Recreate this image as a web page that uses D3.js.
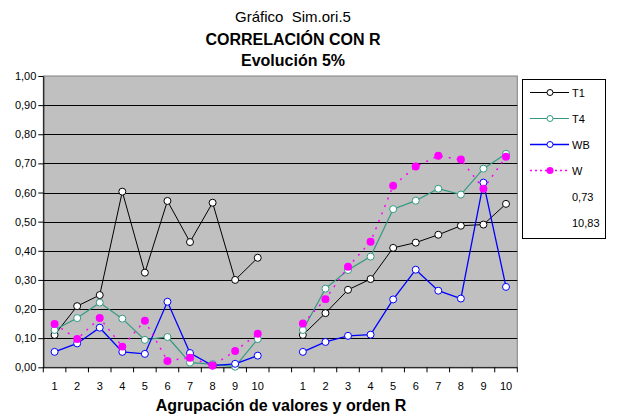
<!DOCTYPE html>
<html><head><meta charset="utf-8">
<script src="https://cdn.jsdelivr.net/npm/d3@7"></script>
<style>body{margin:0;background:#fff}svg{display:block}text{font-family:"Liberation Sans",Arial,sans-serif}</style>
</head><body><svg id="c" width="620" height="420"></svg>
<script>
const categories = ["1","2","3","4","5","6","7","8","9","10","","1","2","3","4","5","6","7","8","9","10"];
const T1 = [0.111,0.210,0.248,0.603,0.325,0.571,0.430,0.565,0.300,0.376,null,0.111,0.186,0.266,0.303,0.410,0.428,0.455,0.486,0.490,0.561];
const T4 = [0.128,0.169,0.222,0.167,0.094,0.104,0.016,0.011,0.002,0.097,null,0.128,0.270,0.334,0.380,0.543,0.572,0.613,0.593,0.682,0.733];
const WB = [0.053,0.082,0.136,0.053,0.046,0.225,0.049,0.006,0.012,0.040,null,0.053,0.087,0.108,0.112,0.233,0.335,0.263,0.236,0.634,0.276];
const W  = [0.149,0.097,0.169,0.071,0.160,0.022,0.033,0.006,0.056,0.115,null,0.150,0.234,0.345,0.431,0.623,0.689,0.726,0.713,0.613,0.723];
const yTicks = [0,0.1,0.2,0.3,0.4,0.5,0.6,0.7,0.8,0.9,1.0];
const legendNames = ["T1","T4","WB","W"];
const legendExtra = ["0,73","10,83"];
const titles = ["Gráfico\u00a0\u00a0Sim.ori.5","CORRELACIÓN CON R","Evolución 5%"];
const xTitle = "Agrupación de valores y orden R";

const svg = d3.select("#c");
const L=43.3, R=517.3, T=76, B=367.3;
const x = d3.scaleBand().domain(d3.range(categories.length)).range([L,R]);
const y = d3.scaleLinear().domain([0,1]).range([B,T]);
const fmt = v => d3.format(".2f")(v).replace(".",",");

svg.append("rect").attr("x",L).attr("y",T).attr("width",R-L).attr("height",B-T).attr("fill","#c0c0c0").attr("stroke","#808080").attr("stroke-width",1);
// gridlines
svg.append("g").selectAll("line").data(yTicks.slice(1,-1)).join("line")
  .attr("x1",L).attr("x2",R).attr("y1",d=>Math.round(y(d))+0.5).attr("y2",d=>Math.round(y(d))+0.5)
  .attr("stroke","#000").attr("stroke-width",1.2);
// y axis
const ya = svg.append("g").attr("transform",`translate(${L},0)`).call(d3.axisLeft(y).tickValues(yTicks).tickFormat(fmt).tickSize(5).tickSizeOuter(0));
ya.select(".domain").attr("stroke","#000");
ya.selectAll("text").attr("font-size",11).attr("fill","#000").attr("x",-7);
// x axis
const xg = svg.append("g").attr("transform",`translate(0,${B})`);
xg.append("line").attr("x1",L).attr("x2",R).attr("y1",0.5).attr("y2",0.5).attr("stroke","#000");
const bounds = d3.range(categories.length+1).map(i=> i<categories.length ? x(i) : x(i-1)+x.bandwidth());
xg.selectAll("line.t").data(bounds).join("line").attr("class","t")
  .attr("x1",d=>d).attr("x2",d=>d).attr("y1",0).attr("y2",5).attr("stroke","#000");
xg.selectAll("text").data(categories).join("text")
  .attr("x",(d,i)=>x(i)+x.bandwidth()/2).attr("y",23).attr("text-anchor","middle").attr("font-size",11).text(d=>d);

const series = [
  {name:"T1",data:T1,color:"#000000",w:1,dash:null,fill:"#fff",r:3.5},
  {name:"T4",data:T4,color:"#339980",w:1.2,dash:null,fill:"#fff",r:3.5},
  {name:"WB",data:WB,color:"#0000ff",w:1.3,dash:null,fill:"#fff",r:3.5},
  {name:"W",data:W,color:"#ff00ff",w:1.5,dash:"2,6",fill:"#ff00ff",r:4}
];
const cx = i => x(i)+x.bandwidth()/2;
const line = d3.line().defined(d=>d!=null).x((d,i)=>cx(i)).y(d=>y(d));
series.forEach(s=>{
  svg.append("path").datum(s.data).attr("d",line).attr("fill","none").attr("stroke",s.color)
    .attr("stroke-width",s.w).attr("stroke-dasharray",s.dash);
});
series.forEach(s=>{
  const pts = s.data.map((v,i)=>({v,i})).filter(d=>d.v!=null);
  if(s.name==="W"){
    svg.append("g").selectAll("path").data(pts).join("path")
      .attr("d",d3.symbol(d3.symbolCircle,50)).attr("transform",d=>`translate(${cx(d.i)},${y(d.v)})`)
      .attr("fill",s.fill);
  } else {
    svg.append("g").selectAll("circle").data(pts).join("circle")
      .attr("cx",d=>cx(d.i)).attr("cy",d=>y(d.v)).attr("r",s.r).attr("fill",s.fill).attr("stroke",s.color).attr("stroke-width",1);
  }
});

// legend
svg.append("rect").attr("x",522.5).attr("y",79.5).attr("width",83).attr("height",159).attr("fill","#fff").attr("stroke","#000");
series.forEach((s,k)=>{
  const ly = 92.5 + k*26;
  svg.append("line").attr("x1",530).attr("x2",569).attr("y1",ly).attr("y2",ly).attr("stroke",s.color).attr("stroke-width",s.w).attr("stroke-dasharray",s.name==="W"?"2,3":null);
  if(s.name==="W") svg.append("circle").attr("cx",550).attr("cy",ly).attr("r",3.5).attr("fill",s.fill);
  else svg.append("circle").attr("cx",550).attr("cy",ly).attr("r",3).attr("fill","#fff").attr("stroke",s.color);
  svg.append("text").attr("x",572).attr("y",ly+4).attr("font-size",11).text(legendNames[k]);
});
legendExtra.forEach((t,k)=>{
  svg.append("text").attr("x",572).attr("y",200.5+k*26.5).attr("font-size",11).text(t);
});

// titles
svg.append("text").attr("x",293).attr("y",22).attr("text-anchor","middle").attr("font-size",15).text(titles[0]);
svg.append("text").attr("x",293).attr("y",45).attr("text-anchor","middle").attr("font-size",16).attr("font-weight","bold").text(titles[1]);
svg.append("text").attr("x",293).attr("y",66).attr("text-anchor","middle").attr("font-size",16).attr("font-weight","bold").text(titles[2]);
svg.append("text").attr("x",281).attr("y",411).attr("text-anchor","middle").attr("font-size",16).attr("font-weight","bold").text(xTitle);
</script></body></html>
